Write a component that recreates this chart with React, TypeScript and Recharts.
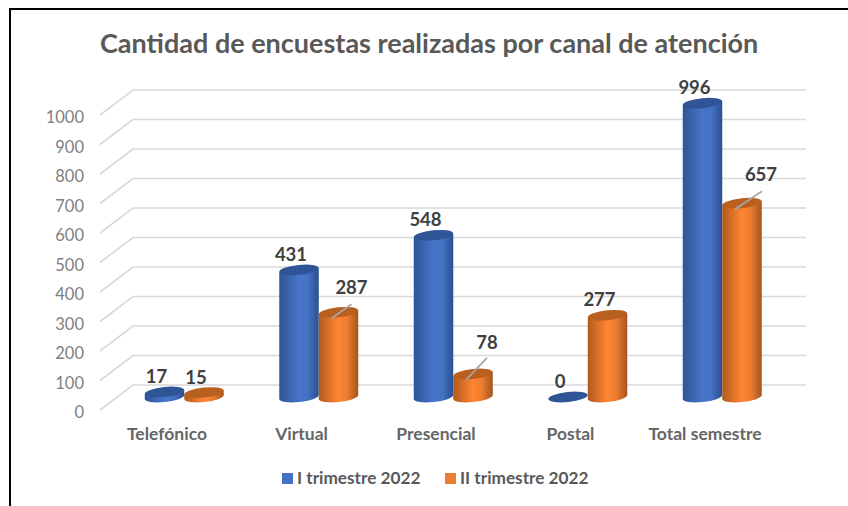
import React from 'react';
import { BarChart, Bar, XAxis, YAxis, CartesianGrid, Legend, LabelList } from 'recharts';

const categories = ['Telefónico', 'Virtual', 'Presencial', 'Postal', 'Total semestre'];
const trimestre1 = [17, 431, 548, 0, 996];
const trimestre2 = [15, 287, 78, 277, 657];
const yTicks = [0, 100, 200, 300, 400, 500, 600, 700, 800, 900, 1000];

const FONT = 'Lato, sans-serif';
const BLUE = '#4472c4';
const ORANGE = '#ed7d31';

const chartData = categories.map((name, i) => ({
  name,
  t1: trimestre1[i],
  t2: trimestre2[i],
}));

// labels of the second series that were dragged off the bar in the original, with a leader line
const LEADERS: Record<number, { lx: number; ly: number; ex: number; ey: number }> = {
  1: { lx: 13, ly: -24, ex: 13, ey: -8 },
  2: { lx: 14, ly: -31, ex: 14, ey: -16 },
  4: { lx: 19, ly: -28, ex: 20, ey: -12 },
};

function Cylinder(props: any) {
  const { x, y, width, height, gradient, top } = props;
  const rx = width / 2;
  const ry = 5;
  const tilt = 2;
  const cx = x + rx;
  const base = y + height;
  return (
    <g>
      {height > 0 && (
        <path
          d={`M${x},${y + tilt} L${x},${base + tilt} A${rx},${ry} -6 0 0 ${x + width},${base - tilt} L${x + width},${y - tilt} Z`}
          fill={`url(#${gradient})`}
        />
      )}
      <ellipse cx={cx} cy={y} rx={rx} ry={ry} fill={top} transform={`rotate(-6 ${cx} ${y})`} />
    </g>
  );
}

function SimpleLabel(props: any) {
  const { x, y, width, value } = props;
  return (
    <text x={x + width / 2 - 8} y={y - 15} dy={6} textAnchor="middle" fontFamily={FONT} fontWeight={700} fontSize={18.5} fill="#404040">
      {value}
    </text>
  );
}

function LeaderLabel(props: any) {
  const { x, y, width, value, index } = props;
  const cx = x + width / 2;
  const leader = LEADERS[index];
  if (!leader) return <SimpleLabel {...props} />;
  return (
    <g>
      <line x1={cx - 7} y1={y + 6} x2={cx + leader.ex} y2={y + leader.ey} stroke="#a6a6a6" strokeWidth={1.8} />
      <text x={cx + leader.lx} y={y + leader.ly} dy={6} textAnchor="middle" fontFamily={FONT} fontWeight={700} fontSize={18.5} fill="#404040">
        {value}
      </text>
    </g>
  );
}

// 3D floor/wall look: each gridline runs along the side wall and then the back wall
function GridLine(props: any) {
  const { y1 } = props;
  return (
    <polyline
      points={`100,${y1 + 13} 133,${y1 - 12} 806,${y1 - 12}`}
      fill="none"
      stroke="#d9d9d9"
      strokeWidth={1.6}
    />
  );
}

function YTick(props: any) {
  const { y, payload } = props;
  return (
    <text x={84} y={y + 15} dy={6} textAnchor="end" fontFamily={FONT} fontSize={16.5} fill="#7f7f7f">
      {payload.value}
    </text>
  );
}

function XTick(props: any) {
  const { x, payload } = props;
  return (
    <text x={x - 17} y={435} dy={5} textAnchor="middle" fontFamily={FONT} fontWeight={700} fontSize={17.5} fill="#666666">
      {payload.value}
    </text>
  );
}

function ChartLegend() {
  const items = [
    { label: 'I trimestre 2022', color: BLUE, swatch: 282, text: 297 },
    { label: 'II trimestre 2022', color: ORANGE, swatch: 445, text: 460 },
  ];
  return (
    <div style={{ position: 'relative', width: 848, height: 20 }}>
      {items.map((it) => (
        <React.Fragment key={it.label}>
          <div style={{ position: 'absolute', left: it.swatch, top: 5, width: 11, height: 11, background: it.color }} />
          <div style={{ position: 'absolute', left: it.text, top: 0, fontFamily: FONT, fontWeight: 700, fontSize: 17.2, lineHeight: '20px', color: '#595959', whiteSpace: 'nowrap' }}>
            {it.label}
          </div>
        </React.Fragment>
      ))}
    </div>
  );
}

export default function App() {
  return (
    <div style={{ position: 'absolute', left: 0, top: 0, width: 848, height: 506, background: '#fff', overflow: 'hidden' }}>
      <div style={{ position: 'absolute', left: 9, top: 8, width: 839, height: 498, borderLeft: '2px solid #000', borderTop: '2px solid #000' }} />
      <div style={{ position: 'absolute', left: 100, top: 25, fontFamily: FONT, fontWeight: 700, fontSize: 27, lineHeight: '36px', color: '#595959', whiteSpace: 'nowrap' }}>
        Cantidad de encuestas realizadas por canal de atención
      </div>
      <BarChart
        width={848}
        height={506}
        data={chartData}
        barSize={39.5}
        barGap={0}
        margin={{ top: 102, right: 58.75, bottom: 59, left: 56.75 }}
        style={{ position: 'absolute', left: 0, top: 0 }}
      >
        <defs>
          <linearGradient id="cylBlue" x1="0" y1="0" x2="1" y2="0">
            <stop offset="0" stopColor="#2f5597" />
            <stop offset="0.5" stopColor="#4774c8" />
            <stop offset="0.72" stopColor="#4472c4" />
            <stop offset="1" stopColor="#2c5090" />
          </linearGradient>
          <linearGradient id="cylOrange" x1="0" y1="0" x2="1" y2="0">
            <stop offset="0" stopColor="#b05a1e" />
            <stop offset="0.5" stopColor="#ff8632" />
            <stop offset="0.72" stopColor="#ed7d31" />
            <stop offset="1" stopColor="#a4541c" />
          </linearGradient>
        </defs>
        <CartesianGrid vertical={false} horizontal={<GridLine />} />
        <XAxis dataKey="name" axisLine={false} tickLine={false} height={30} tick={<XTick />} interval={0} />
        <YAxis domain={[0, 1000]} ticks={yTicks} axisLine={false} tickLine={false} width={60} tickMargin={0} tick={<YTick />} interval={0} />
        <Legend verticalAlign="bottom" content={<ChartLegend />} wrapperStyle={{ left: 0, top: 468, width: 848 }} />
        <Bar dataKey="t1" name="I trimestre 2022" isAnimationActive={false} shape={<Cylinder gradient="cylBlue" top="#2f5597" />}>
          <LabelList dataKey="t1" content={<SimpleLabel />} />
        </Bar>
        <Bar dataKey="t2" name="II trimestre 2022" isAnimationActive={false} shape={<Cylinder gradient="cylOrange" top="#b9601f" />}>
          <LabelList dataKey="t2" content={<LeaderLabel />} />
        </Bar>
      </BarChart>
    </div>
  );
}
